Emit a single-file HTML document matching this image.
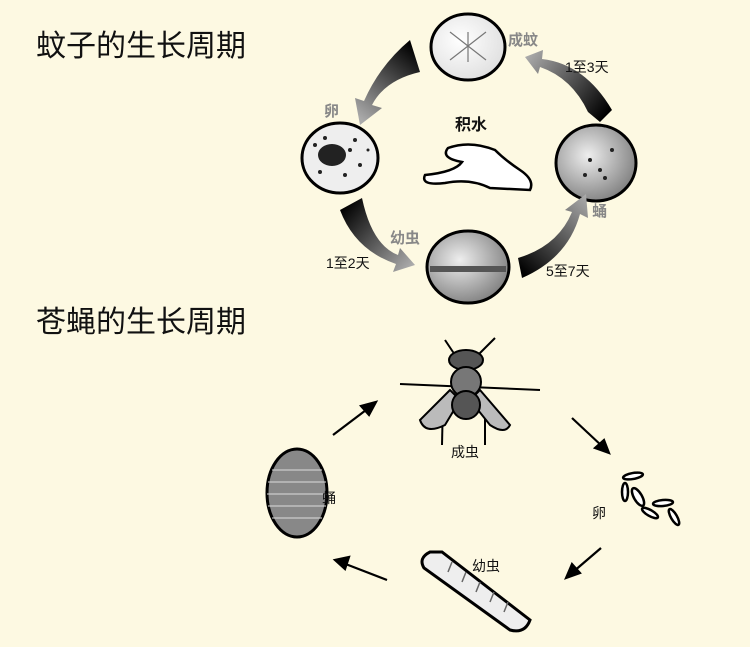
<!DOCTYPE html>
<html><head><meta charset="utf-8"><style>
html,body{margin:0;padding:0;background:#fdf9e2;}
svg{display:block;}
text{font-family:"Liberation Sans","Noto Sans CJK SC",sans-serif;}
</style></head><body>
<svg width="750" height="647" viewBox="0 0 750 647">
<defs>
<linearGradient id="a1" gradientUnits="userSpaceOnUse" x1="418" y1="50" x2="362" y2="120"><stop offset="0" stop-color="#000"/><stop offset="1" stop-color="#aaa"/></linearGradient>
<linearGradient id="a2" gradientUnits="userSpaceOnUse" x1="345" y1="205" x2="412" y2="265"><stop offset="0" stop-color="#000"/><stop offset="1" stop-color="#aaa"/></linearGradient>
<linearGradient id="a3" gradientUnits="userSpaceOnUse" x1="520" y1="270" x2="588" y2="198"><stop offset="0" stop-color="#000"/><stop offset="1" stop-color="#aaa"/></linearGradient>
<linearGradient id="a4" gradientUnits="userSpaceOnUse" x1="605" y1="115" x2="528" y2="55"><stop offset="0" stop-color="#000"/><stop offset="1" stop-color="#aaa"/></linearGradient>
<radialGradient id="c1" cx="0.4" cy="0.4" r="0.7"><stop offset="0" stop-color="#fff"/><stop offset="1" stop-color="#ddd"/></radialGradient>
<radialGradient id="c2" cx="0.4" cy="0.4" r="0.7"><stop offset="0" stop-color="#eee"/><stop offset="1" stop-color="#777"/></radialGradient>
</defs>
<rect width="750" height="647" fill="#fdf9e2"/>
<text x="36" y="56" font-size="30" fill="#111">蚊子的生长周期</text>
<text x="36" y="332" font-size="30" fill="#111">苍蝇的生长周期</text>

<ellipse cx="468" cy="47" rx="37" ry="33" fill="url(#c1)" stroke="#000" stroke-width="3"/>
<g stroke="#777" stroke-width="1.2"><line x1="450" y1="32" x2="486" y2="60"/><line x1="486" y1="32" x2="450" y2="60"/><line x1="468" y1="32" x2="468" y2="62"/></g>
<ellipse cx="340" cy="158" rx="38" ry="35" fill="#eee" stroke="#000" stroke-width="3"/>
<g fill="#222"><ellipse cx="332" cy="155" rx="14" ry="11"/><circle cx="315" cy="145" r="2"/><circle cx="355" cy="140" r="2"/><circle cx="360" cy="165" r="2"/><circle cx="320" cy="172" r="2"/><circle cx="345" cy="175" r="2"/><circle cx="350" cy="150" r="2"/><circle cx="325" cy="138" r="2"/><circle cx="368" cy="150" r="1.5"/></g>
<ellipse cx="596" cy="163" rx="40" ry="38" fill="url(#c2)" stroke="#000" stroke-width="3"/>
<g fill="#222"><circle cx="590" cy="160" r="2"/><circle cx="600" cy="170" r="2"/><circle cx="605" cy="178" r="2"/><circle cx="585" cy="175" r="2"/><circle cx="612" cy="150" r="2"/></g>
<ellipse cx="468" cy="267" rx="41" ry="36" fill="url(#c2)" stroke="#000" stroke-width="3"/>
<rect x="430" y="266" width="76" height="6" fill="#555"/>
<path d="M448 148 Q470 140 495 150 Q505 160 520 170 Q535 180 530 190 L490 188 Q470 178 445 183 Q420 186 425 175 Q455 172 462 162 Q440 158 448 148 Z" fill="#fff" stroke="#000" stroke-width="2.5"/>
<text x="455" y="130" font-size="16" font-weight="bold" fill="#111">积水</text>

<path d="M410 40 L420 72 Q385 80 372 105 L382 108 L360 125 L355 98 L364 101 Q380 65 410 40 Z" fill="url(#a1)"/>
<path d="M340 210 L362 198 Q372 245 398 255 L400 248 L415 265 L393 272 L396 264 Q355 250 340 210 Z" fill="url(#a2)"/>
<path d="M518 258 Q558 246 572 212 L565 210 L586 194 L588 218 L580 214 Q568 258 522 278 Z" fill="url(#a3)"/>
<path d="M600 122 L588 112 Q572 78 540 67 L538 74 L525 57 L543 50 L542 59 Q585 64 612 110 Z" fill="url(#a4)"/>
<text x="508" y="45" font-size="15" font-weight="bold" fill="#888">成蚊</text>
<text x="565" y="72" font-size="14" fill="#111">1至3天</text>
<text x="324" y="116" font-size="15" font-weight="bold" fill="#888">卵</text>
<text x="390" y="243" font-size="15" font-weight="bold" fill="#888">幼虫</text>
<text x="326" y="268" font-size="14" fill="#111">1至2天</text>
<text x="592" y="216" font-size="15" font-weight="bold" fill="#888">蛹</text>
<text x="546" y="276" font-size="14" fill="#111">5至7天</text>

<g stroke="#000" stroke-width="2" fill="none">
<line x1="455" y1="355" x2="445" y2="340"/><line x1="478" y1="355" x2="495" y2="338"/>
<line x1="400" y1="384" x2="540" y2="390"/>
<line x1="443" y1="400" x2="442" y2="445"/><line x1="485" y1="400" x2="485" y2="445"/>
</g>
<path d="M450 390 L420 420 Q425 435 445 425 L460 400 Z M480 390 L510 425 Q505 435 490 425 L470 400 Z" fill="#bbb" stroke="#000" stroke-width="2"/>
<ellipse cx="466" cy="360" rx="17" ry="10" fill="#555" stroke="#000" stroke-width="2"/>
<ellipse cx="466" cy="382" rx="15" ry="15" fill="#777" stroke="#000" stroke-width="2"/>
<ellipse cx="466" cy="405" rx="14" ry="14" fill="#555" stroke="#000" stroke-width="2"/>
<text x="451" y="457" font-size="14" fill="#111">成虫</text>
<ellipse cx="297" cy="493" rx="30" ry="44" fill="#888" stroke="#000" stroke-width="3"/>
<g stroke="#ddd" stroke-width="1"><line x1="272" y1="470" x2="322" y2="470"/><line x1="268" y1="482" x2="326" y2="482"/><line x1="267" y1="494" x2="327" y2="494"/><line x1="268" y1="506" x2="326" y2="506"/><line x1="272" y1="518" x2="322" y2="518"/></g>
<text x="322" y="503" font-size="14" fill="#111">蛹</text>
<g fill="#fff" stroke="#000" stroke-width="2.5">
<ellipse cx="633" cy="476" rx="10" ry="3" transform="rotate(-10 633 476)"/>
<ellipse cx="625" cy="492" rx="3" ry="9"/>
<ellipse cx="638" cy="497" rx="4" ry="10" transform="rotate(-30 638 497)"/>
<ellipse cx="663" cy="503" rx="10" ry="3" transform="rotate(-5 663 503)"/>
<ellipse cx="650" cy="513" rx="9" ry="3" transform="rotate(30 650 513)"/>
<ellipse cx="674" cy="517" rx="3" ry="9" transform="rotate(-30 674 517)"/>
</g>
<text x="592" y="518" font-size="14" fill="#111">卵</text>
<path d="M430 552 Q418 558 424 568 L510 630 Q525 634 530 620 L442 552 Z" fill="#eee" stroke="#000" stroke-width="3"/>
<g stroke="#666" stroke-width="1.5"><line x1="448" y1="572" x2="452" y2="562"/><line x1="462" y1="582" x2="466" y2="572"/><line x1="476" y1="592" x2="480" y2="582"/><line x1="490" y1="602" x2="494" y2="592"/><line x1="504" y1="612" x2="508" y2="602"/></g>
<text x="472" y="571" font-size="14" fill="#111">幼虫</text>
<g stroke="#000" stroke-width="2.2" fill="#000">
<line x1="333" y1="435" x2="370" y2="407"/><path d="M376 402 L361 406 L369 415 Z"/>
<line x1="572" y1="418" x2="603" y2="447"/><path d="M609 453 L595 448 L604 440 Z"/>
<line x1="601" y1="548" x2="573" y2="572"/><path d="M566 578 L572 564 L580 573 Z"/>
<line x1="387" y1="580" x2="343" y2="563"/><path d="M335 560 L349 557 L345 569 Z"/>
</g>
</svg>
</body></html>
